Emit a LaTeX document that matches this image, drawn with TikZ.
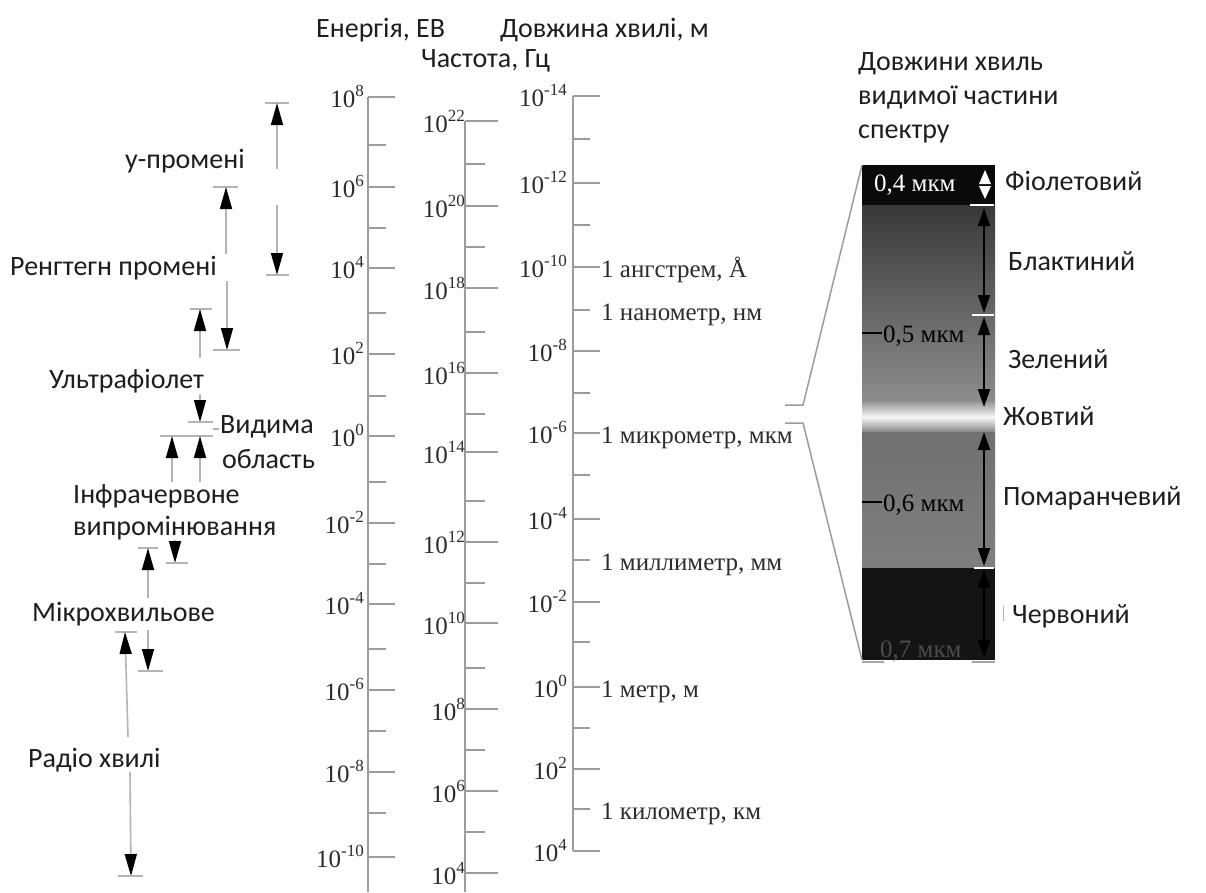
\documentclass[tikz,border=0pt]{standalone}
\usepackage{fontspec}
\setmainfont{Liberation Serif}
\newfontfamily\labfont{Carlito}
\usetikzlibrary{arrows.meta}
\definecolor{axisgray}{HTML}{9C9C9C}
\definecolor{shaftgray}{HTML}{B4B4B4}
\definecolor{txt}{HTML}{1E1E1E}
\definecolor{numtxt}{HTML}{2C2C2C}
\newcommand\pten[1]{10\raisebox{0.42em}{\fontsize{17}{17}\selectfont #1}}
\newcommand\serifnum{\fontsize{25}{25}\selectfont}
\newcommand\labsize{\labfont\fontsize{28}{28}\selectfont}
\tikzset{
  blk/.tip={Triangle[length=22pt,width=12pt,color=black,fill=black]},
  sblk/.tip={Triangle[length=18pt,width=12pt,color=black,fill=black]},
  axisline/.style={draw=axisgray,line width=2.4pt},
  majortick/.style={draw=axisgray,line width=2pt},
  minortick/.style={draw=axisgray,line width=2pt},
  numlab/.style={anchor=base east,inner sep=0pt,font=\serifnum,text=numtxt},
  unitlab/.style={anchor=base west,inner sep=0pt,font=\serifnum,text=numtxt},
  lab/.style={anchor=base west,inner sep=0pt,font=\labsize,text=txt},
  shaft/.style={draw=shaftgray,line width=1.6pt},
  barline/.style={draw=shaftgray,line width=1.6pt},
  sshaft/.style={draw=black,line width=1.8pt},
  funnel/.style={draw=axisgray,line width=1.5pt},
  wbar/.style={draw=white,line width=1.6pt},
}
\begin{document}
\begin{tikzpicture}[x=1pt,y=-1pt]
\useasboundingbox (0,0) rectangle (1206,892);
\fill[white] (0,0) rectangle (1206,892);

% ---------- headers ----------
\node[lab] (hE) at (316,37) {Енергія, ЕВ};
\node[lab] (hF) at (421,67) {Частота, Гц};
\node[lab] (hL) at (500,37) {Довжина хвилі, м};
\node[lab] (hV1) at (858,70) {Довжини хвиль};
\node[lab] (hV2) at (858,104) {видимої частини};
\node[lab] (hV3) at (858,138) {спектру};

% ---------- energy axis ----------
\draw[axisline] (368,97) coordinate (Etop) -- (368,892) coordinate (Ebot);
\foreach \yy/\e [count=\i] in {97/8,187/6,268/4,354/2,436/0,523/-2,604/-4,690/-6,772/-8,857/-10}{
  \draw[majortick] (368,\yy) -- (395,\yy);
  \node[numlab] (E\i) at (364,\yy+10) {\pten{\e}};
}
\foreach \yy in {145,228,313,396,482,564,649,731,813}{
  \draw[minortick] (368,\yy) -- (386,\yy);
}

% ---------- frequency axis ----------
\draw[axisline] (465,121) coordinate (Ftop) -- (465,892) coordinate (Fbot);
\foreach \yy/\e [count=\i] in {121/22,206/20,288/18,373/16,452/14,542/12,623/10,709/8,791/6,873/4}{
  \draw[majortick] (465,\yy) -- (498,\yy);
  \node[numlab] (F\i) at (465,\yy+11) {\pten{\e}};
}
\foreach \yy in {164,247,332,414,501,583,668,750,832}{
  \draw[minortick] (465,\yy) -- (485,\yy);
}

% ---------- wavelength axis ----------
\draw[axisline] (573,96) coordinate (Ltop) -- (573,851) coordinate (Lbot);
\foreach \yy/\e [count=\i] in {96/-14,183/-12,267/-10,351/-8,433/-6,519/-4,602/-2,687/0,769/2,851/4}{
  \draw[majortick] (573,\yy) -- (600,\yy);
  \node[numlab] (L\i) at (567,\yy+10) {\pten{\e}};
}
\foreach \yy in {139,225,310,393,475,560,642,728,809}{
  \draw[minortick] (573,\yy) -- (590,\yy);
}
\node[unitlab] (uA) at (601,277) {1 ангстрем, Å};
\node[unitlab] (uN) at (601,320) {1 нанометр, нм};
\node[unitlab] (uMk) at (601,443) {1 микрометр, мкм};
\node[unitlab] (uMm) at (601,570) {1 миллиметр, мм};
\node[unitlab] (uM) at (601,697) {1 метр, м};
\node[unitlab] (uKm) at (601,819) {1 километр, км};

% ---------- left band labels ----------
\node[lab] (gam) at (125,168) {у-промені};
\node[lab] (xr) at (10,275) {Ренгтегн промені};
\node[lab] (uv) at (49,388) {Ультрафіолет};
\node[lab] (vis1) at (220,433) {Видима};
\node[lab] (vis2) at (222,468) {область};
\node[lab] (ir1) at (73,503) {Інфрачервоне};
\node[lab] (ir2) at (73,535) {випромінювання};
\node[lab] (mw) at (32,621) {Мікрохвильове};
\node[lab] (rad) at (28,767) {Радіо хвилі};

% ---------- left band arrows ----------
% gamma
\draw[barline] (265,103) -- (289,103);
\draw[shaft,-{blk}] (277,169) -- (277,103);
\draw[shaft,-{blk}] (277,205) -- (277,275);
\draw[barline] (266,275) -- (289,275);
% x-ray
\draw[barline] (213,187) -- (238,187);
\draw[shaft,-{blk}] (226,254) -- (226,187);
\draw[shaft,-{blk}] (227,281) -- (227,350);
\draw[barline] (213,350) -- (240,350);
% ultraviolet
\draw[barline] (190,309) -- (212,309);
\draw[shaft,-{blk}] (200,358) -- (200,309);
\draw[shaft,-{blk}] (200,394) -- (200,422);
\draw[barline] (188,422) -- (213,422);
% visible
\draw[shaft] (213,429) -- (219,429);
\draw[barline] (160,436) -- (213,436);
% infrared
\draw[shaft,-{blk}] (172,482) -- (172,436);
\draw[shaft,-{blk}] (200,482) -- (200,436);
\draw[shaft,-{blk}] (175,540) -- (175,563);
\draw[barline] (166,563) -- (188,563);
% microwave
\draw[barline] (138,548) -- (158,548);
\draw[shaft,-{blk}] (148,598) -- (148,548);
\draw[shaft,-{blk}] (148,630) -- (148,671);
\draw[barline] (138,671) -- (163,671);
% radio
\draw[barline] (115,632) -- (137,632);
\draw[shaft,-{blk}] (128,737) -- (125,632);
\draw[shaft,-{blk}] (130,772) -- (131,876);
\draw[barline] (118,876) -- (143,876);

% ---------- visible spectrum panel ----------
\fill[black!96] (862,165) rectangle (995,205);
\shade[top color=black!78, bottom color=black!45] (862,205) rectangle (995,400);
\shade[top color=black!45, bottom color=black!3] (862,400) rectangle (995,417);
\shade[top color=black!3, bottom color=black!48] (862,417) rectangle (995,432);
\shade[top color=black!56, bottom color=black!50] (862,432) rectangle (995,568);
\fill[black!92] (862,568) rectangle (995,660);
\coordinate (Ptl) at (862,165);
\coordinate (Pbl) at (862,660);

\draw[wbar] (970,205) -- (994,205);
\draw[wbar] (972,315) -- (994,315);
\draw[wbar] (974,568) -- (994,568);
\draw[draw=black!35,line width=1.2pt] (862,662) -- (884,662) (972,662) -- (995,662);

% violet (white small arrows)
\fill[white] (979,184) -- (991,184) -- (985,170) -- cycle;
\fill[white] (979,186) -- (991,186) -- (985,199) -- cycle;
% blue
\draw[sshaft,{sblk}-{sblk}] (984,208) -- (984,313);
% green
\draw[sshaft,{sblk}-{sblk}] (984,317) -- (984,407);
% orange
\draw[sshaft,{sblk}-{sblk}] (984,432) -- (984,566);
% red
\draw[sshaft,{sblk}-{sblk}] (984,570) -- (984,658);

\node[unitlab,text=white] (p04) at (874,191) {0,4 мкм};
\draw[draw=black,line width=1.4pt] (862,333) -- (882,333);
\node[unitlab,text=black] (p05) at (883,342) {0,5 мкм};
\draw[draw=black,line width=1.4pt] (862,502) -- (882,502);
\node[unitlab,text=black] (p06) at (883,511) {0,6 мкм};
\node[unitlab,text=black!70] (p07) at (880,657) {0,7 мкм};

% funnel lines
\draw[funnel] (785,405) -- (803,405) -- (Ptl);
\draw[funnel] (785,423) -- (803,423) -- (Pbl);

% colour names
\node[lab] (cV) at (1005,190) {Фіолетовий};
\node[lab] (cB) at (1008,270) {Блактиний};
\node[lab] (cG) at (1008,368) {Зелений};
\node[lab] (cY) at (1003,425) {Жовтий};
\node[lab] (cO) at (1003,505) {Помаранчевий};
\node[lab] (cR) at (1012,623) {Червоний};
\draw[draw=black!30,line width=1pt] (1003,606) -- (1003,621);
\end{tikzpicture}
\end{document}
